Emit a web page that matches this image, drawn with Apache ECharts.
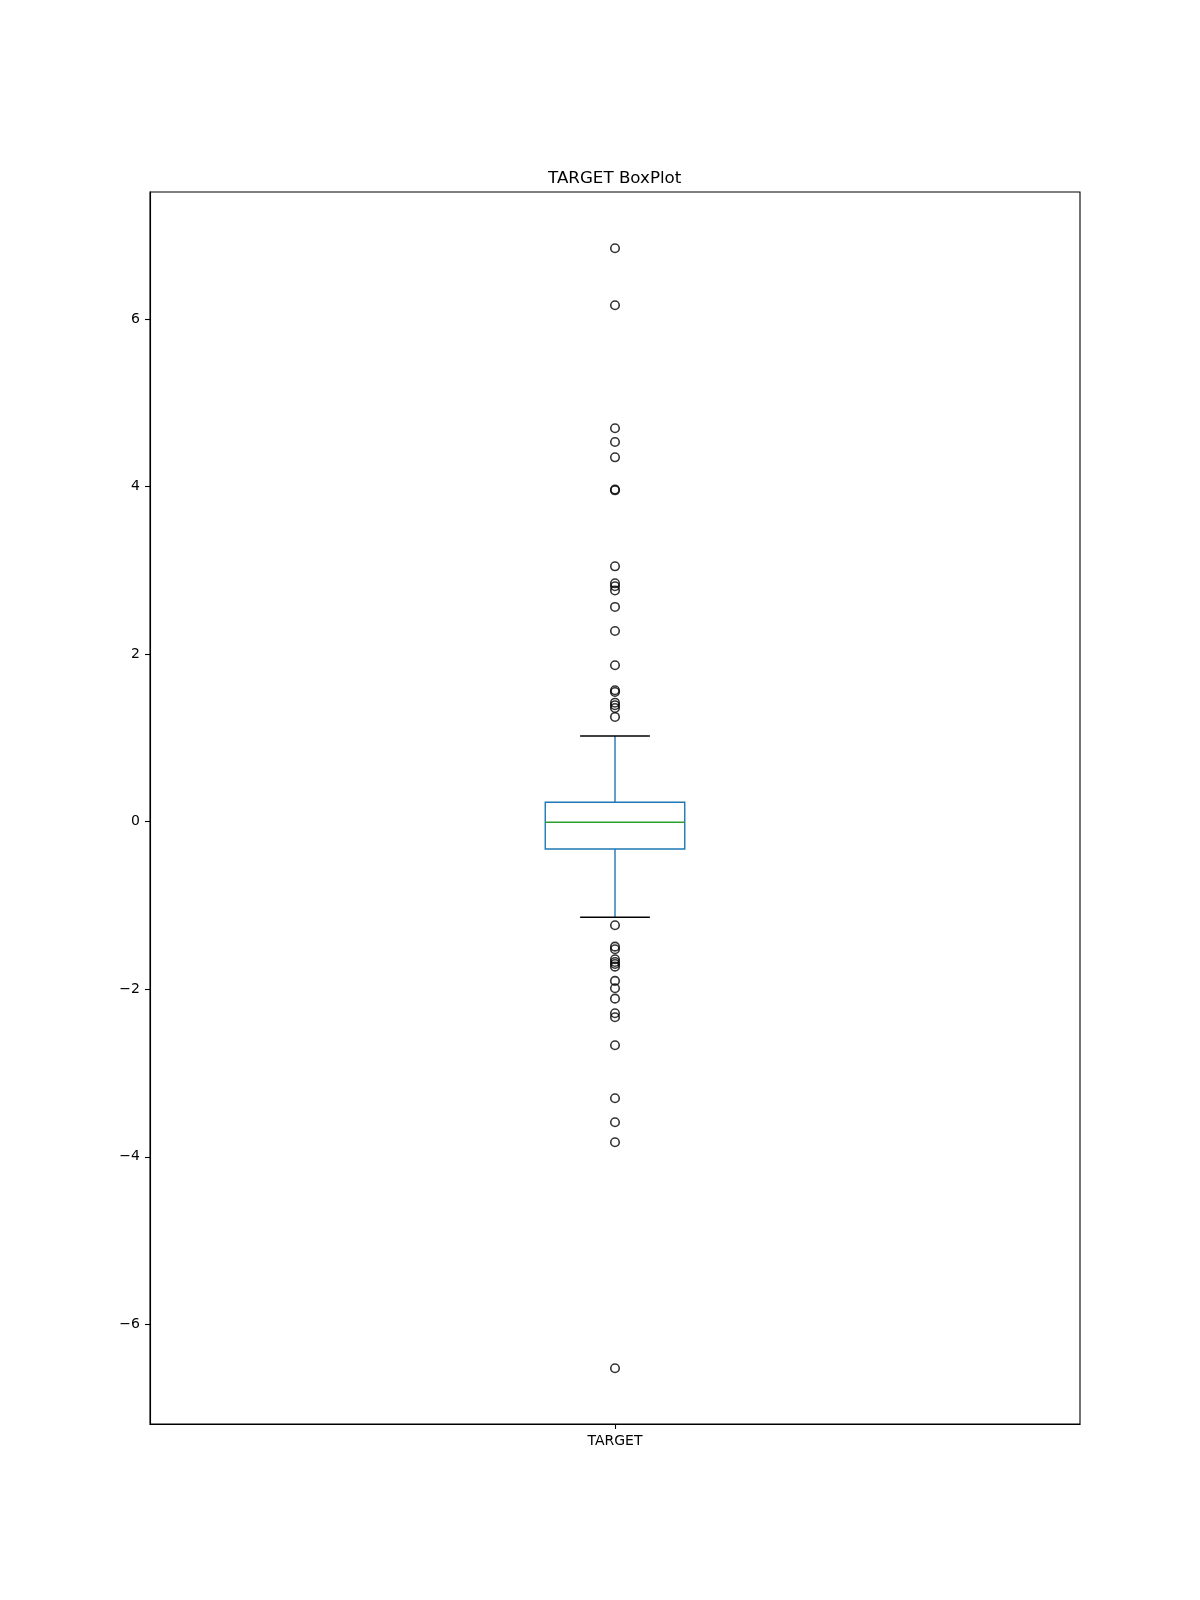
<!DOCTYPE html>
<html>
<head>
<meta charset="utf-8">
<script src="https://cdn.jsdelivr.net/npm/echarts@6/dist/echarts.min.js"></script>
<style>html,body{margin:0;padding:0;background:#fff}#c{width:1200px;height:1600px}</style>
</head>
<body>
<div id="c"></div>
<script>
const categories = ['TARGET'];
const boxStats = [-1.141, -0.326, -0.007, 0.231, 1.023]; // low whisker, q1, median, q3, high whisker
const outliers = [6.844, 6.164, 4.696, 4.532, 4.349, 3.965, 3.955, 3.048, 2.845, 2.81, 2.76, 2.563, 2.276, 1.867, 1.568, 1.548, 1.420, 1.389, 1.357, 1.250,
  -1.237, -1.492, -1.523, -1.643, -1.675, -1.699, -1.731, -1.901, -1.989, -2.113, -2.287, -2.335, -2.669, -3.302, -3.588, -3.827, -6.525];
const yTicks = [-6, -4, -2, 0, 2, 4, 6];
const xTicks = [1];

const font = 'DejaVu Sans';
const chart = echarts.init(document.getElementById('c'));
const boxHalf = 0.075, capHalf = 0.0375;

chart.setOption({
  animation: false,
  backgroundColor: '#fff',
  title: {
    text: 'TARGET BoxPlot', left: 543, top: 165,
    textStyle: { fontFamily: font, fontSize: 16.7, fontWeight: 'normal', color: '#000' }
  },
  grid: { left: 150, right: 120, top: 192, bottom: 176, show: true, borderColor: '#000', borderWidth: 1.1, containLabel: false },
  xAxis: {
    type: 'value', min: 0.5, max: 1.5,
    splitLine: { show: false },
    axisLine: { show: true, onZero: false, lineStyle: { color: '#000', width: 1.1 } },
    axisTick: { show: true, length: 5, lineStyle: { color: '#000', width: 1.1 }, customValues: xTicks },
    axisLabel: { customValues: xTicks, margin: 10, fontFamily: font, fontSize: 14, color: '#000',
      formatter: v => categories[Math.round(v) - 1] || '' }
  },
  yAxis: {
    type: 'value', min: -7.19, max: 7.516,
    splitLine: { show: false },
    axisLine: { show: true, onZero: false, lineStyle: { color: '#000', width: 1.1 } },
    axisTick: { show: true, length: 5, lineStyle: { color: '#000', width: 1.1 }, customValues: yTicks },
    axisLabel: { customValues: yTicks, margin: 10, fontFamily: font, fontSize: 14, color: '#000',
      formatter: v => v < 0 ? '\u2212' + Math.abs(v) : String(v) }
  },
  series: [
    {
      type: 'custom',
      data: [[1].concat(boxStats)],
      encode: { x: 0, y: [1, 2, 3, 4, 5] },
      renderItem: function (params, api) {
        const x = api.value(0);
        const lo = api.value(1), q1 = api.value(2), med = api.value(3), q3 = api.value(4), hi = api.value(5);
        const pL = api.coord([x - boxHalf, q3]), pR = api.coord([x + boxHalf, q1]);
        const c = api.coord([x, med]);
        const cL = api.coord([x - capHalf, lo]), cR = api.coord([x + capHalf, hi]);
        const yLo = api.coord([x, lo])[1], yHi = api.coord([x, hi])[1];
        const yQ1 = pR[1], yQ3 = pL[1];
        const blue = '#1f77b4', lw = 1.4;
        return {
          type: 'group',
          children: [
            { type: 'line', shape: { x1: c[0], y1: yQ3, x2: c[0], y2: yHi }, style: { stroke: blue, lineWidth: lw } },
            { type: 'line', shape: { x1: c[0], y1: yQ1, x2: c[0], y2: yLo }, style: { stroke: blue, lineWidth: lw } },
            { type: 'line', shape: { x1: cL[0], y1: yHi, x2: cR[0], y2: yHi }, style: { stroke: '#000', lineWidth: lw } },
            { type: 'line', shape: { x1: cL[0], y1: yLo, x2: cR[0], y2: yLo }, style: { stroke: '#000', lineWidth: lw } },
            { type: 'rect', shape: { x: pL[0], y: yQ3, width: pR[0] - pL[0], height: yQ1 - yQ3 }, style: { fill: 'none', stroke: blue, lineWidth: lw } },
            { type: 'line', shape: { x1: pL[0], y1: c[1], x2: pR[0], y2: c[1] }, style: { stroke: '#2ca02c', lineWidth: lw } }
          ]
        };
      }
    },
    {
      type: 'scatter',
      data: outliers.map(v => [1, v]),
      symbol: 'circle',
      symbolSize: 8.5,
      itemStyle: { color: 'rgba(0,0,0,0)', borderColor: '#000', borderWidth: 1.6 }
    }
  ]
});
</script>
</body>
</html>
